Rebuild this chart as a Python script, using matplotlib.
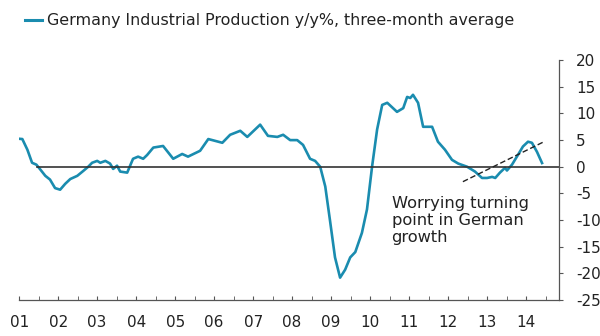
import matplotlib
matplotlib.use('Agg')
import matplotlib.pyplot as plt
from matplotlib.lines import Line2D
from matplotlib.ticker import MultipleLocator

plt.rcParams['font.family'] = ['DejaVu Sans']

# three-month average, y/y %
years = [2001.00, 2001.08, 2001.21, 2001.33, 2001.44, 2001.54, 2001.67, 2001.79, 2001.92,
         2002.05, 2002.18, 2002.31, 2002.49, 2002.64, 2002.77, 2002.87, 2003.00, 2003.08,
         2003.21, 2003.33, 2003.41, 2003.51, 2003.59, 2003.77, 2003.92, 2004.05, 2004.18,
         2004.28, 2004.44, 2004.69, 2004.95, 2005.18, 2005.33, 2005.64, 2005.85, 2006.21,
         2006.41, 2006.67, 2006.85, 2007.18, 2007.38, 2007.62, 2007.77, 2007.95, 2008.13,
         2008.28, 2008.46, 2008.59, 2008.72, 2008.85, 2008.97, 2009.10, 2009.23, 2009.36,
         2009.49, 2009.62, 2009.79, 2009.92, 2010.05, 2010.18, 2010.31, 2010.44, 2010.69,
         2010.85, 2010.95, 2011.03, 2011.10, 2011.23, 2011.36, 2011.59, 2011.74, 2011.92,
         2012.10, 2012.26, 2012.49, 2012.69, 2012.87, 2013.00, 2013.13, 2013.21, 2013.33,
         2013.46, 2013.51, 2013.64, 2013.79, 2013.92, 2014.05, 2014.15, 2014.28, 2014.41]
production = [5.25, 5.2, 3.2, 0.75, 0.4, -0.5, -1.7, -2.4, -4.0,
              -4.3, -3.2, -2.3, -1.7, -0.8, 0.0, 0.75, 1.1, 0.75,
              1.1, 0.6, -0.4, 0.2, -0.9, -1.1, 1.5, 1.9, 1.5,
              2.2, 3.6, 3.9, 1.5, 2.4, 1.9, 3.0, 5.2, 4.5,
              6.0, 6.75, 5.6, 7.9, 5.8, 5.6, 6.0, 5.0, 5.0,
              4.1, 1.5, 1.1, 0.0, -3.7, -10.0, -17.0, -20.8, -19.3,
              -17.0, -16.0, -12.4, -8.0, 0.0, 7.0, 11.6, 12.0, 10.3,
              11.0, 13.1, 12.9, 13.5, 12.0, 7.5, 7.5, 4.7, 3.2,
              1.3, 0.6, 0.0, -0.9, -2.1, -2.1, -1.9, -2.1, -1.1,
              -0.2, -0.7, 0.4, 2.2, 3.8, 4.7, 4.5, 2.8, 0.7]

trend_x = [2012.38, 2014.46]
trend_y = [-2.8, 4.7]

year_ticks = list(range(2001, 2015))
year_labels = ['%02d' % (y % 100) for y in year_ticks]
y_ticks = list(range(-25, 21, 5))
y_labels = [str(v) for v in y_ticks]  # plain hyphen, as in the original

teal = '#1a8caf'

fig = plt.figure(figsize=(6, 3.36), dpi=100)
ax = fig.add_axes([0.032, 0.107, 0.9, 0.714])

ax.plot(years, production, color=teal, lw=1.9, solid_joinstyle='round')
ax.plot([2001.45, 2014.85], [0, 0], color='#333333', lw=1.2)
ax.plot(trend_x, trend_y, color='#222222', lw=1.0, ls=(0, (4, 2)))

ax.text(2010.55, -5.5, 'Worrying turning\npoint in German\ngrowth', fontsize=11.7,
        color='#222222', va='top', ha='left', linespacing=1.15)

ax.set_xlim(2001, 2014.85)
ax.set_ylim(-25, 20)
ax.set_xticks(year_ticks)
ax.set_xticklabels(year_labels)
ax.xaxis.set_minor_locator(MultipleLocator(0.5))
ax.set_yticks(y_ticks)
ax.set_yticklabels(y_labels)
ax.yaxis.tick_right()

for s in ['left', 'top']:
    ax.spines[s].set_visible(False)
for s in ['right', 'bottom']:
    ax.spines[s].set_color('#555555')
    ax.spines[s].set_linewidth(0.9)

ax.tick_params(axis='x', which='both', direction='in', length=3, color='#555555',
               labelsize=11, pad=11, labelcolor='#222222')
ax.tick_params(axis='y', direction='out', length=3, color='#555555',
               labelsize=11, pad=9, labelcolor='#222222')

fig.add_artist(Line2D([25 / 600, 42 / 600], [1 - 20 / 336, 1 - 20 / 336], color=teal, lw=2.2))
fig.text(47 / 600, 1 - 21 / 336, 'Germany Industrial Production y/y%, three-month average',
         fontsize=11.4, color='#222222', va='center', ha='left')

fig.savefig('out.png', dpi=100)
